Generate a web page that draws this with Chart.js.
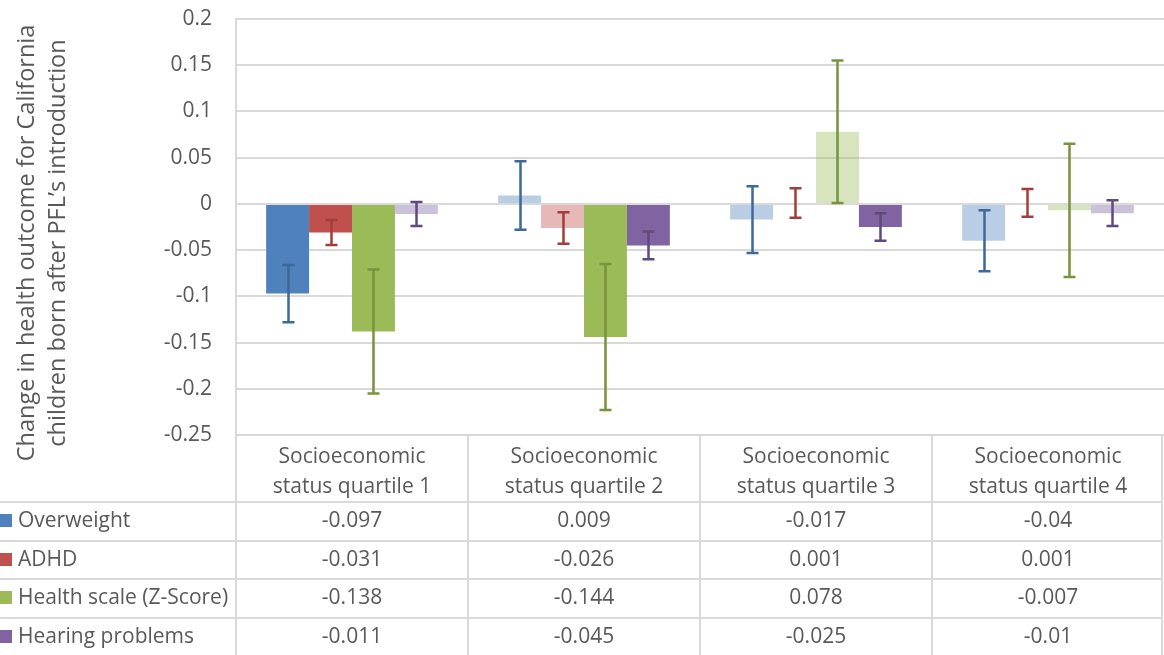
<!DOCTYPE html>
<html lang="en">
<head>
<meta charset="UTF-8" />
<title>Change in health outcome by socioeconomic status quartile</title>
<script src="https://cdn.jsdelivr.net/npm/chart.js"></script>
<style>
  html, body { margin: 0; padding: 0; background: #ffffff; }
  #wrap { width: 1164px; height: 655px; position: relative; }
</style>
</head>
<body>
<div id="wrap"><canvas id="chart"></canvas></div>
<script>
  // categories (two-line labels as in the data table header)
  const quartiles = [
    ["Socioeconomic", "status quartile 1"],
    ["Socioeconomic", "status quartile 2"],
    ["Socioeconomic", "status quartile 3"],
    ["Socioeconomic", "status quartile 4"]
  ];
  const seriesNames = ["Overweight", "ADHD", "Health scale (Z-Score)", "Hearing problems"];

  // point estimates
  const overweight = [-0.097, 0.009, -0.017, -0.04];
  const adhd       = [-0.031, -0.026, 0.001, 0.001];
  const health     = [-0.138, -0.144, 0.078, -0.007];
  const hearing    = [-0.011, -0.045, -0.025, -0.01];

  // error bar half widths
  const overweightErr = [0.031, 0.037, 0.036, 0.033];
  const adhdErr       = [0.0135, 0.017, 0.016, 0.015];
  const healthErr     = [0.067, 0.079, 0.077, 0.072];
  const hearingErr    = [0.013, 0.015, 0.015, 0.014];

  // solid bar = significant, faded bar = not significant
  const overweightSig = [true, false, false, false];
  const adhdSig       = [true, false, false, false];
  const healthSig     = [true, true, false, false];
  const hearingSig    = [false, true, true, false];

  // y axis ticks
  const yMin = -0.25, yMax = 0.2, yStep = 0.05;
  const yTitle = ["Change in health outcome for California", "children born after PFL\u2019s introduction"];

  const FONT = "'Open Sans', sans-serif";
  const TEXT = "#595959";
  const GRID = "#D9D9D9";
  const colors = [[79,129,189], [192,80,77], [155,187,89], [128,100,162]];
  const errColors = ["#3D689B", "#A13E3B", "#77933C", "#5F4A7E"];

  const values = [overweight, adhd, health, hearing];
  const errs = [overweightErr, adhdErr, healthErr, hearingErr];
  const sigs = [overweightSig, adhdSig, healthSig, hearingSig];

  const rgba = (c, a) => `rgba(${c[0]},${c[1]},${c[2]},${a})`;

  const datasets = seriesNames.map((name, i) => ({
    label: name,
    data: values[i],
    backgroundColor: sigs[i].map(s => rgba(colors[i], s ? 1 : 0.4)),
    borderWidth: 0,
    categoryPercentage: 0.74,
    barPercentage: 1
  }));

  const errorBars = {
    id: "errorBars",
    afterDatasetsDraw(chart) {
      const ctx = chart.ctx, y = chart.scales.y;
      ctx.save();
      datasets.forEach((ds, i) => {
        const meta = chart.getDatasetMeta(i);
        meta.data.forEach((bar, j) => {
          const top = y.getPixelForValue(values[i][j] + errs[i][j]);
          const bot = y.getPixelForValue(values[i][j] - errs[i][j]);
          const x = Math.round(bar.x) + 0.5;
          ctx.strokeStyle = errColors[i];
          ctx.lineWidth = 2.5;
          ctx.beginPath();
          ctx.moveTo(x, top); ctx.lineTo(x, bot);
          ctx.moveTo(x - 6, top); ctx.lineTo(x + 6, top);
          ctx.moveTo(x - 6, bot); ctx.lineTo(x + 6, bot);
          ctx.stroke();
        });
      });
      ctx.restore();
    }
  };

  const dataTable = {
    id: "dataTable",
    afterDraw(chart) {
      const ctx = chart.ctx, area = chart.chartArea, xs = chart.scales.x;
      const top = area.bottom, right = area.right - 2;
      const headH = 67, rowH = 38.5;
      const colW = (area.right - area.left) / quartiles.length;
      ctx.save();

      // y axis title, rotated
      ctx.fillStyle = TEXT;
      ctx.font = `23.5px ${FONT}`;
      ctx.textAlign = "center";
      ctx.textBaseline = "alphabetic";
      ctx.translate(0, 243);
      ctx.rotate(-Math.PI / 2);
      ctx.fillText(yTitle[0], 0, 33.5);
      ctx.fillText(yTitle[1], 0, 65);
      ctx.setTransform(1, 0, 0, 1, 0, 0);

      // grid lines of the table
      ctx.strokeStyle = GRID;
      ctx.lineWidth = 2;
      ctx.beginPath();
      for (let r = 0; r <= seriesNames.length; r++) {
        const yy = Math.round(top + headH + r * rowH);
        ctx.moveTo(0, yy); ctx.lineTo(right, yy);
      }
      for (let c = 0; c <= quartiles.length; c++) {
        const xx = c === quartiles.length ? right : Math.round(area.left + c * colW);
        ctx.moveTo(xx, top); ctx.lineTo(xx, chart.height);
      }
      ctx.stroke();

      // header text
      ctx.fillStyle = TEXT;
      ctx.font = `21px ${FONT}`;
      ctx.textAlign = "center";
      ctx.textBaseline = "alphabetic";
      quartiles.forEach((lines, c) => {
        const cx = xs.getPixelForValue(c);
        ctx.fillText(lines[0], cx, top + 28);
        ctx.fillText(lines[1], cx, top + 58);
      });

      // rows: legend key + values
      seriesNames.forEach((name, r) => {
        const cy = top + headH + r * rowH + rowH / 2;
        ctx.fillStyle = rgba(colors[r], 1);
        ctx.fillRect(0, Math.round(cy - 7), 12, 13);
        ctx.fillStyle = TEXT;
        ctx.textAlign = "left";
        ctx.textBaseline = "middle";
        ctx.fillText(name, 18, cy);
        ctx.textAlign = "center";
        values[r].forEach((v, c) => {
          ctx.fillText(String(v), xs.getPixelForValue(c), cy);
        });
      });
      ctx.restore();
    }
  };

  new Chart(document.getElementById("chart"), {
    type: "bar",
    data: { labels: quartiles.map(q => q.join(" ")), datasets },
    options: {
      responsive: true,
      maintainAspectRatio: false,
      animation: false,
      layout: { padding: { top: 19, right: 0, bottom: 220, left: 0 } },
      plugins: { legend: { display: false }, tooltip: { enabled: false } },
      scales: {
        x: { display: false },
        y: {
          min: yMin,
          max: yMax,
          ticks: {
            stepSize: yStep,
            padding: 24,
            color: TEXT,
            font: { family: FONT, size: 21 },
            callback: v => String(+v.toFixed(2))
          },
          grid: { color: GRID, lineWidth: 2, drawTicks: false },
          border: { display: true, color: GRID, width: 2 },
          afterFit: s => { s.width = 236; s.paddingTop = 0; s.paddingBottom = 0; }
        }
      }
    },
    plugins: [errorBars, dataTable]
  });
</script>
</body>
</html>
